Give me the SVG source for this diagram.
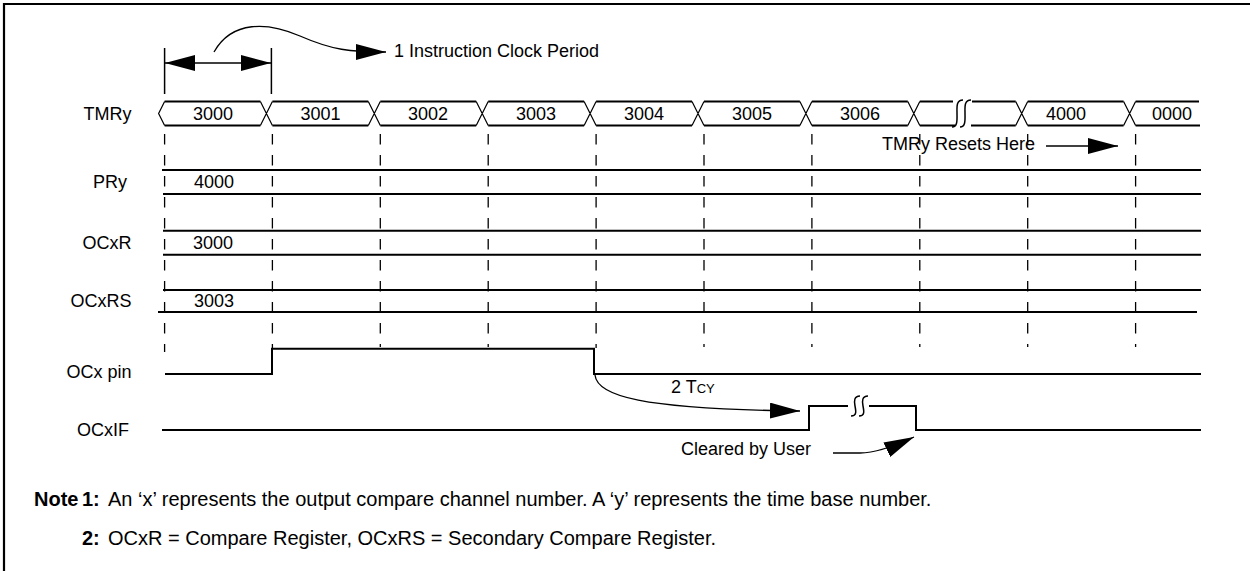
<svg xmlns="http://www.w3.org/2000/svg" width="1250" height="571" viewBox="0 0 1250 571">
<defs>
<style>
.t{font-family:"Liberation Sans",Arial,Helvetica,sans-serif;font-size:18px;fill:#000}
.n{font-size:20px}
.b{font-weight:bold}
.thick{stroke:#000;stroke-width:2;fill:none}
.thin{stroke:#000;stroke-width:1.2;fill:none}
.brk{stroke:#000;stroke-width:1.5;fill:none}
.dash{stroke:#000;stroke-width:1.3;stroke-dasharray:10.5 10.5;stroke-dashoffset:13;fill:none}
.conn{stroke:#000;stroke-width:1.3;fill:none}
</style>
<marker id="ah" viewBox="0 0 30 16" refX="30" refY="8" markerWidth="30" markerHeight="16" markerUnits="userSpaceOnUse" orient="auto-start-reverse">
<path d="M0,0 L30,8 L0,16 z" fill="#000"/>
</marker>
</defs>
<rect width="1250" height="571" fill="#fff"/>
<path d="M4,571 V4 H1250" stroke="#000" stroke-width="2.2" fill="none"/>

<g id="grid">
<path class="dash" d="M164.6,126 V352 M272.4,126 V348 M380.3,126 V347 M488.2,126 V347 M596.1,126 V348 M704,126 V347 M811.9,126 V347 M919.8,126 V347 M1027.7,126 V347 M1135.6,126 V347"/>
</g>

<g id="clock-period">
<path d="M164.6,48 V94 M271.4,48 V94" stroke="#000" stroke-width="1.5"/>
<text class="t" x="394" y="57">1 Instruction Clock Period</text>
</g>

<g id="TMRy">
<text class="t" x="131.5" y="120" text-anchor="end">TMRy</text>
<path class="thick" d="M164.6,101.5 H260.4 M164.6,125.5 H260.4
M272.4,101.5 H368.3 M272.4,125.5 H368.3
M380.3,101.5 H476.2 M380.3,125.5 H476.2
M488.2,101.5 H584.1 M488.2,125.5 H584.1
M596.1,101.5 H692 M596.1,125.5 H692
M704,101.5 H799.9 M704,125.5 H799.9
M811.9,101.5 H907.8 M811.9,125.5 H907.8
M919.8,101.5 H953 M919.8,125.5 H955
M972,101.5 H1015.7 M971,125.5 H1015.7
M1027.7,101.5 H1123.6 M1027.7,125.5 H1123.6
M1135.6,101.5 H1199 M1135.6,125.5 H1200"/>
<path class="thin" d="M164.6,101.5 L158.6,113.5 L164.6,125.5
M260.4,101.5 L272.4,125.5 M260.4,125.5 L272.4,101.5
M368.3,101.5 L380.3,125.5 M368.3,125.5 L380.3,101.5
M476.2,101.5 L488.2,125.5 M476.2,125.5 L488.2,101.5
M584.1,101.5 L596.1,125.5 M584.1,125.5 L596.1,101.5
M692,101.5 L704,125.5 M692,125.5 L704,101.5
M799.9,101.5 L811.9,125.5 M799.9,125.5 L811.9,101.5
M907.8,101.5 L919.8,125.5 M907.8,125.5 L919.8,101.5
M1015.7,101.5 L1027.7,125.5 M1015.7,125.5 L1027.7,101.5
M1123.6,101.5 L1135.6,125.5 M1123.6,125.5 L1135.6,101.5"/>
<path class="brk" d="M952,127 C958,127 957,119 957,113 C957,107 956,100 963,100
M960,127 C966,127 965,119 965,113 C965,107 964,100 971,100"/>
<g class="t" text-anchor="middle">
<text x="213" y="120">3000</text>
<text x="320.5" y="120">3001</text>
<text x="428" y="120">3002</text>
<text x="536" y="120">3003</text>
<text x="644" y="120">3004</text>
<text x="752" y="120">3005</text>
<text x="860" y="120">3006</text>
<text x="1066" y="120">4000</text>
<text x="1172" y="120">0000</text>
</g>
<text class="t" x="882" y="150">TMRy Resets Here</text>
</g>

<g id="PRy">
<text class="t" x="127" y="188" text-anchor="end">PRy</text>
<path class="thick" d="M162,170 H1201 M163,194 H1201"/>
<text class="t" x="214" y="188" text-anchor="middle">4000</text>
</g>

<g id="OCxR">
<text class="t" x="131.5" y="249" text-anchor="end">OCxR</text>
<path class="thick" d="M163,230.7 H1201 M163,254.7 H1201"/>
<text class="t" x="213" y="249" text-anchor="middle">3000</text>
</g>

<g id="OCxRS">
<text class="t" x="131.5" y="307" text-anchor="end">OCxRS</text>
<path class="thick" d="M163,290 H1201 M158,312 H1197"/>
<text class="t" x="214" y="307" text-anchor="middle">3003</text>
</g>

<g id="OCx-pin">
<text class="t" x="131.5" y="378" text-anchor="end">OCx pin</text>
<path class="thick" d="M165,374 H272 V348.7 H594 V374 H1201"/>
</g>

<g id="OCxIF">
<text class="t" x="129" y="436" text-anchor="end">OCxIF</text>
<path class="thick" d="M162,430 H809 V406 H848 M869,406 H916 V430 H1201"/>
<path class="brk" d="M851,416 C857,416 856,411 855,406 C854,401 854,396 860,396
M859,416 C865,416 864,411 863,406 C862,401 862,396 868,396"/>
</g>

<g id="connectors">
<path class="conn" d="M165,63 H271" stroke-width="2" marker-start="url(#ah)" marker-end="url(#ah)"/>
<path class="conn" d="M214,52 C232,20 268,22 300,36 S350,52 386,52" marker-end="url(#ah)"/>
<path class="conn" d="M1046,146 H1118" stroke-width="2" marker-end="url(#ah)"/>
<path class="conn" d="M595,375 C597,396 640,409 800,411" marker-end="url(#ah)"/>
<path class="conn" d="M833,453 H860 C870,453 885,450.5 914,437" stroke-width="2" marker-end="url(#ah)"/>
</g>

<g id="labels">
<text class="t" x="671" y="393">2 T<tspan font-size="13">CY</tspan></text>
<text class="t" x="681" y="455">Cleared by User</text>
</g>

<g id="notes">
<text class="t n b" x="34" y="506">Note</text>
<text class="t n b" x="82" y="506">1:</text>
<text class="t n" x="108" y="506">An ‘x’ represents the output compare channel number. A ‘y’ represents the time base number.</text>
<text class="t n b" x="82" y="545">2:</text>
<text class="t n" x="108" y="545">OCxR = Compare Register, OCxRS = Secondary Compare Register.</text>
</g>
</svg>
